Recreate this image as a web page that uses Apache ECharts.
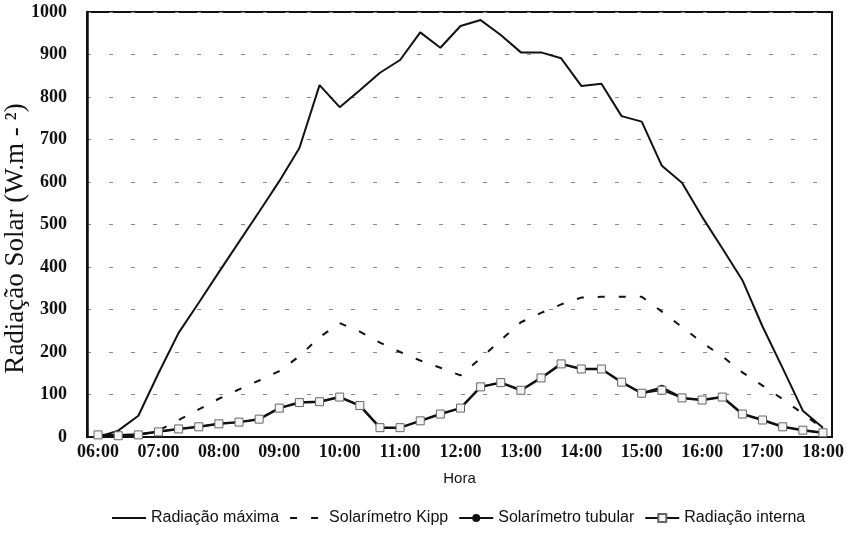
<!DOCTYPE html>
<html>
<head>
<meta charset="utf-8">
<script src="https://cdn.jsdelivr.net/npm/echarts@6/dist/echarts.min.js"></script>
<style>
html, body { margin: 0; padding: 0; background: #fff; }
#chart { width: 859px; height: 535px; }
</style>
</head>
<body>
<div id="chart"></div>
<script>
// horarios das leituras (de 20 em 20 minutos)
var horas = ['06:00','06:20','06:40','07:00','07:20','07:40','08:00','08:20','08:40',
    '09:00','09:20','09:40','10:00','10:20','10:40','11:00','11:20','11:40',
    '12:00','12:20','12:40','13:00','13:20','13:40','14:00','14:20','14:40',
    '15:00','15:20','15:40','16:00','16:20','16:40','17:00','17:20','17:40','18:00'];
var rotulosX = ['06:00','07:00','08:00','09:00','10:00','11:00','12:00','13:00','14:00','15:00','16:00','17:00','18:00'];

var radMaxima = [0, 15, 50, 150, 245, 316, 388, 459, 530, 602, 680, 828, 776, 816, 857, 887, 952, 916,
    967, 981, 946, 905, 905, 891, 826, 831, 755, 742, 638, 598, 518, 444, 369, 260, 162, 62, 22];
var kipp = [0, 3, 5, 15, 40, 65, 90, 112, 133, 155, 190, 235, 268, 248, 222, 200, 180, 163,
    145, 185, 228, 270, 292, 312, 328, 330, 330, 330, 295, 259, 222, 190, 152, 121, 89, 55, 20];
var tubular = [5, 4, 6, 13, 19, 24, 31, 35, 42, 68, 81, 83, 94, 74, 22, 22, 38, 54,
    68, 118, 128, 110, 139, 172, 160, 160, 129, 103, 116, 92, 87, 94, 54, 40, 24, 16, 10];
var interna = [5, 3, 5, 12, 19, 24, 31, 35, 42, 68, 81, 83, 94, 74, 22, 22, 38, 54,
    68, 118, 128, 110, 139, 172, 160, 160, 129, 103, 110, 92, 87, 94, 54, 40, 24, 16, 10];

function minutos(h) {
    var p = h.split(':');
    return parseInt(p[0], 10) * 60 + parseInt(p[1], 10);
}
function hhmm(m) {
    var h = Math.floor(m / 60), mm = m % 60;
    return (h < 10 ? '0' : '') + h + ':' + (mm < 10 ? '0' : '') + mm;
}
function pares(valores) {
    return horas.map(function (h, i) { return [minutos(h), valores[i]]; });
}

var myChart = echarts.init(document.getElementById('chart'));
var option = {
    animation: false,
    backgroundColor: '#fff',
    grid: {
        left: 87,
        right: 27,
        top: 12,
        bottom: 98,
        outerBoundsMode: 'none',
        show: true,
        borderColor: '#111',
        borderWidth: 2
    },
    legend: {
        bottom: 4,
        left: 106,
        itemWidth: 34,
        itemHeight: 10,
        itemGap: 10,
        textStyle: {
            fontFamily: 'Liberation Sans, Arial, sans-serif',
            fontSize: 16,
            color: '#111'
        },
        data: [
            { name: 'Radiação máxima', itemStyle: { opacity: 0 } },
            { name: 'Solarímetro Kipp', itemStyle: { opacity: 0 } },
            'Solarímetro tubular',
            'Radiação interna'
        ]
    },
    xAxis: {
        type: 'value',
        min: 349,
        max: 1089,
        name: 'Hora',
        nameLocation: 'middle',
        nameGap: 34,
        nameMoveOverlap: false,
        nameTextStyle: {
            fontFamily: 'Liberation Sans, Arial, sans-serif',
            fontSize: 15,
            color: '#111'
        },
        splitLine: { show: false },
        axisTick: { show: false },
        axisLine: { lineStyle: { color: '#111', width: 2 } },
        axisLabel: {
            customValues: rotulosX.map(minutos),
            formatter: function (v) { return hhmm(v); },
            margin: 6,
            fontFamily: 'Liberation Serif, Times New Roman, serif',
            fontWeight: 'bold',
            fontSize: 18,
            color: '#111'
        }
    },
    yAxis: {
        type: 'value',
        min: 0,
        max: 1000,
        interval: 100,
        name: 'Radiação Solar (W.m - ²)',
        nameLocation: 'middle',
        nameGap: 58,
        nameMoveOverlap: false,
        nameTextStyle: {
            fontFamily: 'Liberation Serif, Times New Roman, serif',
            fontSize: 27,
            color: '#111',
            padding: [0, 28, 0, 0]
        },
        axisTick: { show: false },
        axisLine: { show: true, lineStyle: { color: '#111', width: 2.5 } },
        axisLabel: {
            margin: 20,
            formatter: function (v) { return String(v); },
            fontFamily: 'Liberation Serif, Times New Roman, serif',
            fontWeight: 'bold',
            fontSize: 18,
            color: '#111'
        },
        splitLine: {
            show: true,
            lineStyle: { color: '#888', width: 1, type: [4, 18] }
        }
    },
    series: [
        {
            name: 'Radiação máxima',
            type: 'line',
            data: pares(radMaxima),
            symbol: 'none',
            lineStyle: { color: '#111', width: 2 },
            itemStyle: { color: '#111' }
        },
        {
            name: 'Solarímetro Kipp',
            type: 'line',
            data: pares(kipp),
            symbol: 'none',
            lineStyle: { color: '#111', width: 2, type: [7, 14] },
            itemStyle: { color: '#111' }
        },
        {
            name: 'Solarímetro tubular',
            type: 'line',
            data: pares(tubular),
            symbol: 'circle',
            symbolSize: 6,
            lineStyle: { color: '#111', width: 2.5 },
            itemStyle: { color: '#111' }
        },
        {
            name: 'Radiação interna',
            type: 'line',
            data: pares(interna),
            symbol: 'rect',
            symbolSize: 8,
            lineStyle: { color: '#111', width: 1.5 },
            itemStyle: { color: '#f4f4f4', borderColor: '#666', borderWidth: 1 }
        }
    ]
};
window.onresize = myChart.resize;
myChart.setOption(option);
</script>
</body>
</html>
